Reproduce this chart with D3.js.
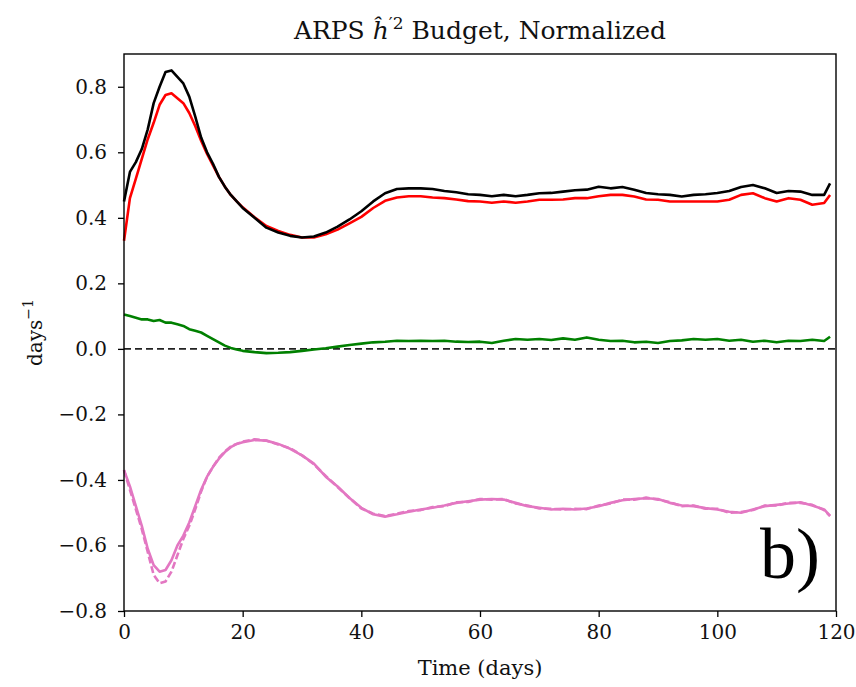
<!DOCTYPE html>
<html lang="en">
<head>
    <meta charset="UTF-8">
    <title>ARPS h'2 Budget, Normalized</title>
    <script src="https://cdn.jsdelivr.net/npm/d3@7"></script>
</head>
<body>
    <script>
        // time axis (days) shared by all series
        const days = [0, 1, 2, 3, 4, 5, 6, 7, 8, 9, 10, 11, 12, 13, 14, 15, 16, 17, 18, 19, 20,
            22, 24, 26, 28, 30, 32, 34, 36, 38, 40, 42, 44, 46, 48, 50, 52, 54, 56, 58, 60,
            62, 64, 66, 68, 70, 72, 74, 76, 78, 80, 82, 84, 86, 88, 90, 92, 94, 96, 98, 100,
            102, 104, 106, 108, 110, 112, 114, 116, 118, 119];

        const total = [0.45, 0.54, 0.57, 0.61, 0.67, 0.75, 0.80, 0.845, 0.85, 0.83, 0.81, 0.77, 0.71, 0.645, 0.60, 0.565, 0.525, 0.495, 0.47, 0.45, 0.43,
            0.40, 0.37, 0.355, 0.345, 0.34, 0.343, 0.355, 0.373, 0.395, 0.42, 0.45, 0.475, 0.488, 0.49, 0.49,
            0.488, 0.482, 0.478, 0.472, 0.47, 0.466, 0.47, 0.466, 0.47, 0.475, 0.476, 0.48, 0.484, 0.486, 0.495,
            0.49, 0.494, 0.486, 0.476, 0.472, 0.47, 0.465, 0.47, 0.472, 0.476, 0.482, 0.494, 0.50, 0.49, 0.476,
            0.482, 0.48, 0.47, 0.47, 0.505];

        const production = [0.33, 0.46, 0.52, 0.58, 0.64, 0.69, 0.745, 0.775, 0.78, 0.765, 0.75, 0.72, 0.68, 0.635, 0.595, 0.56, 0.525, 0.495, 0.47, 0.45, 0.432,
            0.402, 0.375, 0.36, 0.348, 0.34, 0.34, 0.35, 0.364, 0.383, 0.403, 0.43, 0.452, 0.462, 0.466, 0.466,
            0.462, 0.46, 0.456, 0.451, 0.45, 0.446, 0.45, 0.446, 0.45, 0.455, 0.455, 0.456, 0.46, 0.46, 0.466,
            0.47, 0.47, 0.465, 0.456, 0.455, 0.45, 0.45, 0.45, 0.45, 0.45, 0.455, 0.47, 0.475, 0.46, 0.45,
            0.46, 0.455, 0.44, 0.445, 0.47];

        const transport = [0.105, 0.10, 0.095, 0.09, 0.09, 0.085, 0.088, 0.08, 0.08, 0.075, 0.07, 0.06, 0.055, 0.05, 0.04, 0.03, 0.02, 0.01, 0.003, -0.002, -0.006,
            -0.01, -0.013, -0.012, -0.01, -0.006, -0.002, 0.002, 0.007, 0.012, 0.016, 0.02, 0.022, 0.025, 0.024, 0.025,
            0.024, 0.025, 0.022, 0.021, 0.022, 0.018, 0.025, 0.03, 0.028, 0.03, 0.027, 0.032, 0.028, 0.035, 0.028,
            0.024, 0.025, 0.02, 0.022, 0.018, 0.024, 0.026, 0.03, 0.028, 0.03, 0.025, 0.028, 0.022, 0.025, 0.02,
            0.025, 0.024, 0.028, 0.024, 0.037];

        const dissipation = [-0.37, -0.42, -0.48, -0.54, -0.61, -0.66, -0.68, -0.675, -0.645, -0.60, -0.57, -0.53, -0.48, -0.43, -0.39, -0.36, -0.335, -0.315, -0.30, -0.29, -0.285,
            -0.278, -0.28, -0.29, -0.305, -0.325, -0.35, -0.39, -0.42, -0.455, -0.485, -0.505, -0.512, -0.505, -0.497, -0.49,
            -0.485, -0.478, -0.47, -0.465, -0.46, -0.458, -0.46, -0.47, -0.48, -0.485, -0.49, -0.488, -0.49, -0.487, -0.48,
            -0.47, -0.462, -0.458, -0.456, -0.458, -0.47, -0.478, -0.48, -0.486, -0.49, -0.497, -0.50, -0.49, -0.48, -0.476,
            -0.472, -0.468, -0.478, -0.49, -0.51];

        const dissipationAlt = [-0.37, -0.43, -0.49, -0.55, -0.62, -0.69, -0.715, -0.71, -0.68, -0.63, -0.58, -0.54, -0.49, -0.435, -0.39, -0.36, -0.333, -0.313, -0.298, -0.29, -0.283,
            -0.276, -0.28, -0.292, -0.303, -0.325, -0.352, -0.388, -0.422, -0.455, -0.487, -0.503, -0.51, -0.503, -0.495, -0.492,
            -0.483, -0.48, -0.468, -0.467, -0.458, -0.46, -0.458, -0.472, -0.478, -0.487, -0.488, -0.49, -0.488, -0.489, -0.478,
            -0.472, -0.46, -0.46, -0.454, -0.46, -0.468, -0.48, -0.478, -0.488, -0.488, -0.5, -0.498, -0.492, -0.478, -0.478,
            -0.47, -0.47, -0.476, -0.492, -0.51];

        const xTicks = [0, 20, 40, 60, 80, 100, 120];
        const yTicks = [-0.8, -0.6, -0.4, -0.2, 0.0, 0.2, 0.4, 0.6, 0.8];

        const width = 856;
        const height = 687;
        const margin = { top: 54, right: 20, bottom: 76, left: 124 };

        const svg = d3.select("body").append("svg").attr("width", width).attr("height", height);

        const x = d3.scaleLinear().domain([0, 120]).range([margin.left, width - margin.right]);
        const y = d3.scaleLinear().domain([-0.8, 0.9]).range([height - margin.bottom, margin.top]);

        const series = [
            { values: production, color: "#ff0000", dash: null },
            { values: total, color: "#000000", dash: null },
            { values: transport, color: "#008000", dash: null },
            { values: dissipationAlt, color: "#e377c2", dash: "7,3" },
            { values: dissipation, color: "#e377c2", dash: null }
        ];

        const line = d3.line().x((d) => x(d[0])).y((d) => y(d[1]));

        // zero line
        svg.append("line")
            .attr("x1", x(0)).attr("x2", x(120))
            .attr("y1", y(0)).attr("y2", y(0))
            .attr("stroke", "#222").attr("stroke-width", 1.6)
            .attr("stroke-dasharray", "7,4");

        svg.append("g")
            .selectAll("path")
            .data(series)
            .join("path")
            .attr("d", (s) => line(days.map((t, i) => [t, s.values[i]])))
            .attr("fill", "none")
            .attr("stroke", (s) => s.color)
            .attr("stroke-width", 2.6)
            .attr("stroke-linejoin", "round")
            .attr("stroke-dasharray", (s) => s.dash);

        const fmt = (d) => d3.format(".1f")(d).replace("-", "\u2212");

        const xAxis = svg.append("g")
            .attr("transform", `translate(0,${y(-0.8)})`)
            .call(d3.axisBottom(x).tickValues(xTicks).tickSize(6).tickPadding(8));
        const yAxis = svg.append("g")
            .attr("transform", `translate(${x(0)},0)`)
            .call(d3.axisLeft(y).tickValues(yTicks).tickFormat(fmt).tickSize(6).tickPadding(11));

        [xAxis, yAxis].forEach((g) => {
            g.select(".domain").remove();
            g.selectAll("line").attr("stroke", "#000").attr("stroke-width", 1.3);
            g.selectAll("text")
                .attr("font-family", "DejaVu Serif")
                .attr("font-size", 20)
                .attr("fill", "#111");
        });

        // frame
        svg.append("rect")
            .attr("x", x(0)).attr("y", y(0.9))
            .attr("width", x(120) - x(0)).attr("height", y(-0.8) - y(0.9))
            .attr("fill", "none").attr("stroke", "#000").attr("stroke-width", 1.4);

        // title
        const title = svg.append("text")
            .attr("x", (x(0) + x(120)) / 2).attr("y", 39)
            .attr("text-anchor", "middle")
            .attr("font-family", "DejaVu Serif")
            .attr("font-size", 25)
            .attr("fill", "#111");
        title.append("tspan").text("ARPS ");
        title.append("tspan").attr("font-style", "italic").text("\u0125");
        title.append("tspan").attr("font-size", 17).attr("dy", -10).text("\u20322");
        title.append("tspan").attr("dy", 10).text(" Budget, Normalized");

        // axis labels
        svg.append("text")
            .attr("x", (x(0) + x(120)) / 2).attr("y", 675)
            .attr("text-anchor", "middle")
            .attr("font-family", "DejaVu Serif")
            .attr("font-size", 21)
            .attr("fill", "#111")
            .text("Time (days)");

        const ylab = svg.append("text")
            .attr("transform", `translate(42,${(y(0.9) + y(-0.8)) / 2}) rotate(-90)`)
            .attr("text-anchor", "middle")
            .attr("font-family", "DejaVu Serif")
            .attr("font-size", 20)
            .attr("fill", "#111");
        ylab.append("tspan").text("days");
        ylab.append("tspan").attr("font-size", 14).attr("dy", -9).text("\u22121");

        // panel label
        svg.append("text")
            .attr("x", 760).attr("y", 578)
            .attr("font-family", "Liberation Serif")
            .attr("font-size", 72)
            .attr("fill", "#000")
            .text("b)");
    </script>
    <style>
        * {
            margin: 0;
            padding: 0;
        }
    </style>
</body>
</html>
